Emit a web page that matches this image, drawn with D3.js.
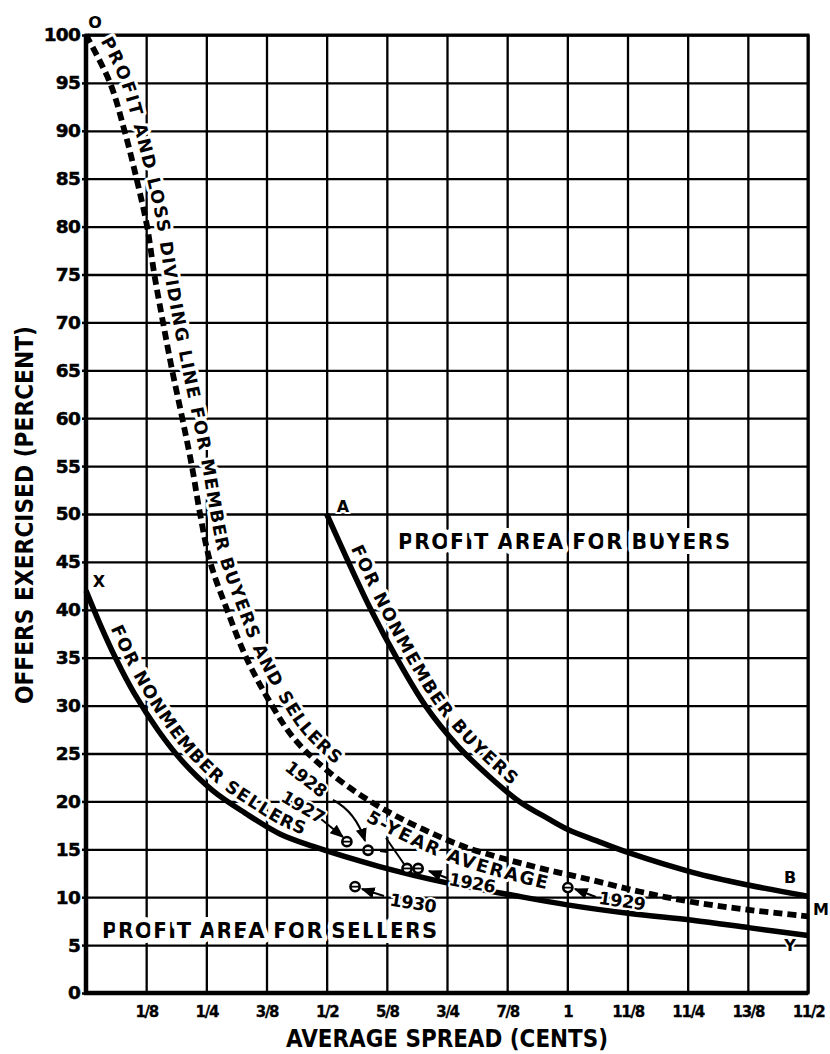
<!DOCTYPE html>
<html>
<head>
<meta charset="utf-8">
<script src="https://cdn.jsdelivr.net/npm/d3@7"></script>
<style>
  body { margin: 0; background: #fff; }
  text { font-family: "DejaVu Sans", "Noto Sans", sans-serif; font-weight: bold; fill: #000; }
</style>
</head>
<body>
<svg id="chart" width="830" height="1054"></svg>
<script>
// ---- data ----
const yTickValues = [0, 5, 10, 15, 20, 25, 30, 35, 40, 45, 50, 55, 60, 65, 70, 75, 80, 85, 90, 95, 100];
const xTickValues = [0.125, 0.25, 0.375, 0.5, 0.625, 0.75, 0.875, 1, 1.125, 1.25, 1.375, 1.5];
const xTickLabels = ["1/8", "1/4", "3/8", "1/2", "5/8", "3/4", "7/8", "1", "11/8", "11/4", "13/8", "11/2"];

// profit and loss dividing line for member buyers and sellers (O - M)
const memberX = [0, 0.05, 0.08, 0.105, 0.127, 0.142, 0.16, 0.179, 0.2, 0.22, 0.237, 0.258, 0.293, 0.333, 0.376, 0.43, 0.492, 0.563, 0.632, 0.70, 0.79, 0.93, 1.05, 1.157, 1.26, 1.373, 1.5];
const memberY = [100, 95, 90, 85, 80, 75, 70, 65, 60, 55, 50, 45, 40, 35, 30.9, 26.7, 23.6, 20.9, 18.8, 17.1, 15.2, 13.2, 11.8, 10.5, 9.5, 8.7, 8.0];

// nonmember buyers (A - B)
const buyersX = [0.5, 0.545, 0.592, 0.645, 0.705, 0.772, 0.84, 0.9, 0.96, 1.0, 1.06, 1.124, 1.26, 1.373, 1.5];
const buyersY = [50, 45, 40, 35, 30, 25.8, 22.5, 20, 18.2, 17.1, 15.9, 14.7, 12.6, 11.3, 10.1];

// nonmember sellers (X - Y)
const sellersX = [0, 0.03, 0.064, 0.1, 0.15, 0.2, 0.264, 0.33, 0.403, 0.472, 0.61, 0.75, 0.887, 1.0, 1.13, 1.26, 1.38, 1.5];
const sellersY = [42, 38.4, 34.7, 31.3, 27.4, 24.2, 21.1, 18.8, 16.6, 15.3, 13.2, 11.5, 10.2, 9.2, 8.3, 7.6, 6.8, 6.0];

// yearly observations
const years = ["1927", "1928", "5-YEAR AVERAGE", "1926", "1930", "1929"];
const yearX = [0.542, 0.586, 0.667, 0.69, 0.559, 1.001];
const yearY = [15.8, 14.9, 13.0, 13.0, 11.1, 11.0];

// ---- layout ----
const svg = d3.select("#chart");
const x = d3.scaleLinear().domain([0, 1.5]).range([86, 808]);
const y = d3.scaleLinear().domain([0, 100]).range([993, 35]);
const zip = (a, b) => a.map((v, i) => [v, b[i]]);

const line = d3.line()
    .x(d => x(d[0]))
    .y(d => y(d[1]))
    .curve(d3.curveCatmullRom.alpha(0.5));

// grid lines
svg.append("g")
    .attr("transform", `translate(0,${y(0)})`)
    .call(d3.axisBottom(x).tickValues(xTickValues).tickSize(-(y(0) - y(100))).tickFormat(""))
    .call(g => g.select(".domain").remove())
    .selectAll("line").attr("stroke", "#000").attr("stroke-width", 2.3);

svg.append("g")
    .attr("transform", `translate(${x(0)},0)`)
    .call(d3.axisLeft(y).tickValues(yTickValues).tickSize(-(x(1.5) - x(0))).tickFormat(""))
    .call(g => g.select(".domain").remove())
    .selectAll("line").attr("stroke", "#000").attr("stroke-width", 2.3);

// frame
svg.append("rect")
    .attr("x", x(0)).attr("y", y(100))
    .attr("width", x(1.5) - x(0)).attr("height", y(0) - y(100))
    .attr("fill", "none").attr("stroke", "#000").attr("stroke-width", 3);
svg.append("path")
    .attr("d", `M${x(0)},${y(100)}V${y(0)}H${x(1.5)}`)
    .attr("fill", "none").attr("stroke", "#000").attr("stroke-width", 4.5);

// axis labels
const yAxis = svg.append("g")
    .attr("transform", `translate(${x(0)},0)`)
    .call(d3.axisLeft(y).tickValues(yTickValues).tickSize(4).tickPadding(2));
yAxis.select(".domain").remove();
yAxis.selectAll("line").attr("stroke", "#000").attr("stroke-width", 2.5);
yAxis.selectAll("text")
    .attr("font-family", "DejaVu Sans").attr("font-weight", "bold")
    .attr("font-size", 18.5).attr("letter-spacing", -0.8)
    .attr("fill", "#000").attr("stroke", "#000").attr("stroke-width", 0.5);

const xAxis = svg.append("g")
    .attr("transform", `translate(0,${y(0)})`)
    .call(d3.axisBottom(x).tickValues(xTickValues).tickSize(0).tickPadding(13)
        .tickFormat((d, i) => xTickLabels[i]));
xAxis.select(".domain").remove();
xAxis.selectAll("text")
    .attr("font-family", "DejaVu Sans").attr("font-weight", "bold")
    .attr("font-size", 15).attr("letter-spacing", -1.3)
    .attr("fill", "#000").attr("stroke", "#000").attr("stroke-width", 0.3);

svg.append("text")
    .attr("x", (x(0) + x(1.5)) / 2).attr("y", 1047)
    .attr("text-anchor", "middle").attr("font-size", 24)
    .attr("textLength", 322).attr("lengthAdjust", "spacingAndGlyphs")
    .text("AVERAGE SPREAD (CENTS)");

svg.append("text")
    .attr("transform", "translate(33,515) rotate(-90)")
    .attr("text-anchor", "middle").attr("font-size", 24)
    .attr("textLength", 378).attr("lengthAdjust", "spacingAndGlyphs")
    .text("OFFERS EXERCISED (PERCENT)");

// halo helper for text sitting on the grid
function halo(sel, w) {
    return sel.attr("stroke", "#fff").attr("stroke-width", w)
        .attr("stroke-linejoin", "round").attr("paint-order", "stroke");
}

// area labels
halo(svg.append("text")
    .attr("x", 398).attr("y", 549).attr("font-size", 21)
    .attr("textLength", 332), 10)
    .text("PROFIT AREA FOR BUYERS");
halo(svg.append("text")
    .attr("x", 102).attr("y", 938).attr("font-size", 21)
    .attr("textLength", 335), 10)
    .text("PROFIT AREA FOR SELLERS");

// curves (paths kept for text placement)
const defs = svg.append("defs");
const curves = [
    { id: "member", pts: zip(memberX, memberY), dash: "9,5", w: 5.8 },
    { id: "buyers", pts: zip(buyersX, buyersY), dash: null, w: 5.5 },
    { id: "sellers", pts: zip(sellersX, sellersY), dash: null, w: 5.5 }
];
curves.forEach(c => defs.append("path").attr("id", "p-" + c.id).attr("d", line(c.pts)));

function lengthAtX(id, xv) {
    const node = document.getElementById("p-" + id);
    let lo = 0, hi = node.getTotalLength();
    const px = x(xv);
    for (let k = 0; k < 40; k++) {
        const mid = (lo + hi) / 2;
        if (node.getPointAtLength(mid).x < px) lo = mid; else hi = mid;
    }
    return lo;
}

const curveLabels = [
    { id: "member", text: "PROFIT AND LOSS DIVIDING LINE FOR MEMBER BUYERS AND SELLERS", from: 0.012, to: 0.505, dy: -10, size: 17.5 },
    { id: "buyers", text: "FOR NONMEMBER BUYERS", from: 0.535, to: 0.873, dy: -8, size: 17.5 },
    { id: "sellers", text: "FOR NONMEMBER SELLERS", from: 0.036, to: 0.445, dy: -8, size: 17.5 },
    { id: "member", text: "5-YEAR AVERAGE", from: 0.60, to: 0.965, dy: 19, size: 18 }
];
curveLabels.forEach(l => {
    const a = lengthAtX(l.id, l.from), b = lengthAtX(l.id, l.to);
    halo(svg.append("text").attr("font-size", l.size), 6)
        .append("textPath")
        .attr("href", "#p-" + l.id)
        .attr("startOffset", a)
        .attr("textLength", b - a)
        .append("tspan").attr("dy", l.dy)
        .text(l.text);
});

curves.forEach(c => {
    svg.append("path")
        .attr("d", line(c.pts))
        .attr("fill", "none").attr("stroke", "#000")
        .attr("stroke-width", c.w)
        .attr("stroke-dasharray", c.dash);
});

// end letters
const letters = [
    { t: "O", px: 95, py: 28 }, { t: "A", px: 343, py: 512 },
    { t: "X", px: 99, py: 587 }, { t: "B", px: 790, py: 883 },
    { t: "M", px: 821, py: 915 }, { t: "Y", px: 790, py: 951 }
];
letters.forEach(l => {
    halo(svg.append("text").attr("x", l.px).attr("y", l.py)
        .attr("text-anchor", "middle").attr("font-size", 16), 4).text(l.t);
});

// leaders with arrows
defs.append("marker").attr("id", "arrow")
    .attr("viewBox", "0 0 10 10").attr("refX", 9).attr("refY", 5)
    .attr("markerWidth", 7).attr("markerHeight", 7).attr("orient", "auto")
    .append("path").attr("d", "M0,1L10,5L0,9Z").attr("fill", "#000");

const leaders = [
    { d: "M333,800 Q356,812 365,841", arrow: true },
    { d: "M321,819 L343,837", arrow: true },
    { d: "M386,838 L404,864", arrow: false },
    { d: "M380,851 L387,852", arrow: false },
    { d: "M447,878 L429,871", arrow: true },
    { d: "M384,896 L362,889", arrow: true },
    { d: "M596,897 L575,889", arrow: true }
];
leaders.forEach(l => {
    svg.append("path").attr("d", l.d)
        .attr("fill", "none").attr("stroke", "#000").attr("stroke-width", 2)
        .attr("marker-end", l.arrow ? "url(#arrow)" : null);
});

// year labels
const yearLabels = [
    { t: "1928", px: 306, py: 779, r: 38 },
    { t: "1927", px: 303, py: 807, r: 30 },
    { t: "1926", px: 472, py: 883, r: 10 },
    { t: "1930", px: 413, py: 903, r: 9 },
    { t: "1929", px: 622, py: 901, r: 8 }
];
yearLabels.forEach(l => {
    halo(svg.append("text")
        .attr("transform", `translate(${l.px},${l.py}) rotate(${l.r})`)
        .attr("text-anchor", "middle").attr("dy", "0.35em")
        .attr("font-weight", "normal").attr("font-size", 17.5)
        .attr("letter-spacing", -0.5), 4).text(l.t);
});

// observation points
const pts = svg.append("g").selectAll("g")
    .data(years.map((n, i) => ({ n, x: yearX[i], y: yearY[i] })))
    .join("g")
    .attr("transform", d => `translate(${x(d.x)},${y(d.y)})`);
pts.append("circle").attr("r", 4.6)
    .attr("fill", "#fff").attr("stroke", "#000").attr("stroke-width", 2.6);
pts.append("line").attr("x1", -4).attr("x2", 4)
    .attr("stroke", "#000").attr("stroke-width", 1.8);
</script>
</body>
</html>
